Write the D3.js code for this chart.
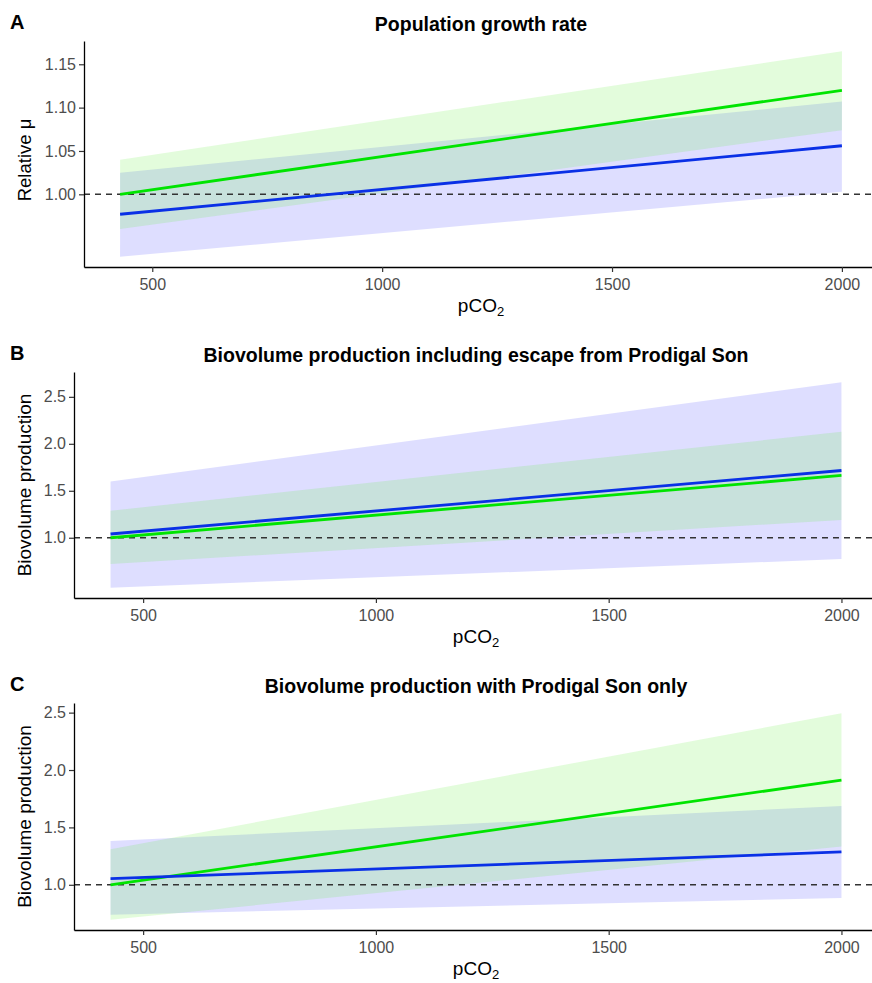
<!DOCTYPE html>
<html>
<head>
<meta charset="utf-8">
<script src="https://cdn.jsdelivr.net/npm/d3@7"></script>
<style>
  body { margin: 0; background: #fff; }
  svg { display: block; font-family: "Liberation Sans", Arial, sans-serif; }
</style>
</head>
<body>
<div id="chart"></div>
<script>
// x values (pCO2) at the two ends of each fitted line
var pco2 = [430, 2000];

// A - population growth rate
var aGreenFit = [1.000, 1.120];
var aGreenLo  = [0.960, 1.074];
var aGreenHi  = [1.040, 1.165];
var aBlueFit  = [0.977, 1.056];
var aBlueLo   = [0.928, 1.003];
var aBlueHi   = [1.025, 1.107];

// B - biovolume incl. escape
var bGreenFit = [1.000, 1.663];
var bGreenLo  = [0.720, 1.190];
var bGreenHi  = [1.287, 2.128];
var bBlueFit  = [1.040, 1.716];
var bBlueLo   = [0.468, 0.773];
var bBlueHi   = [1.600, 2.655];

// C - biovolume Prodigal Son only
var cGreenFit = [1.000, 1.912];
var cGreenLo  = [0.696, 1.333];
var cGreenHi  = [1.310, 2.494];
var cBlueFit  = [1.053, 1.286];
var cBlueLo   = [0.740, 0.886];
var cBlueHi   = [1.382, 1.687];

var xTicks = [500, 1000, 1500, 2000];
var aYTicks = [1.00, 1.05, 1.10, 1.15];
var bcYTicks = [1.0, 1.5, 2.0, 2.5];

var panels = [
  {tag: "A", title: "Population growth rate", ylab: "Relative \u03bc", ylabSize: 18.5, ylabY: 160,
   left: 84, top: 41, bottom: 267, yTicks: aYTicks, fmt: d3.format(".2f"),
   green: [aGreenFit, aGreenLo, aGreenHi], blue: [aBlueFit, aBlueLo, aBlueHi]},
  {tag: "B", title: "Biovolume production including escape from Prodigal Son", ylab: "Biovolume production", ylabSize: 19,
   left: 74, top: 372, bottom: 598, yTicks: bcYTicks, fmt: d3.format(".1f"),
   green: [bGreenFit, bGreenLo, bGreenHi], blue: [bBlueFit, bBlueLo, bBlueHi]},
  {tag: "C", title: "Biovolume production with Prodigal Son only", ylab: "Biovolume production", ylabSize: 19,
   left: 74, top: 703, bottom: 930, yTicks: bcYTicks, fmt: d3.format(".1f"),
   green: [cGreenFit, cGreenLo, cGreenHi], blue: [cBlueFit, cBlueLo, cBlueHi]}
];

var W = 872, H = 983, right = 878;
var svg = d3.select("#chart").append("svg").attr("width", W).attr("height", H);

function expand(ext) {
  var pad = (ext[1] - ext[0]) * 0.05;
  return [ext[0] - pad, ext[1] + pad];
}

panels.forEach(function(p) {
  var allY = [].concat(p.green[1], p.green[2], p.blue[1], p.blue[2], p.green[0], p.blue[0]);
  var x = d3.scaleLinear().domain(expand(d3.extent(pco2))).range([p.left, right]);
  var y = d3.scaleLinear().domain(expand(d3.extent(allY))).range([p.bottom, p.top]);

  function rows(s) {
    return pco2.map(function(v, i) { return {x: v, fit: s[0][i], lo: s[1][i], hi: s[2][i]}; });
  }
  var area = d3.area().x(function(d) { return x(d.x); })
    .y0(function(d) { return y(d.lo); }).y1(function(d) { return y(d.hi); });
  var line = d3.line().x(function(d) { return x(d.x); }).y(function(d) { return y(d.fit); });

  var g = svg.append("g");

  // ribbons
  g.append("path").datum(rows(p.blue)).attr("d", area)
    .attr("fill", "rgb(0,0,255)").attr("fill-opacity", 0.13);
  g.append("path").datum(rows(p.green)).attr("d", area)
    .attr("fill", "rgb(100,239,61)").attr("fill-opacity", 0.18);

  // reference line at 1
  g.append("line").attr("x1", p.left).attr("x2", right)
    .attr("y1", y(1)).attr("y2", y(1))
    .attr("stroke", "#333").attr("stroke-width", 1.4).attr("stroke-dasharray", "6,5");

  g.append("path").datum(rows(p.green)).attr("d", line)
    .attr("fill", "none").attr("stroke", "#00e400").attr("stroke-width", 2.8);
  g.append("path").datum(rows(p.blue)).attr("d", line)
    .attr("fill", "none").attr("stroke", "#0a30e6").attr("stroke-width", 2.8);

  // axes
  var xAxis = g.append("g").attr("transform", "translate(0," + p.bottom + ")")
    .call(d3.axisBottom(x).tickValues(xTicks).tickFormat(d3.format("d"))
      .tickSize(5).tickPadding(7).tickSizeOuter(0));
  var yAxis = g.append("g").attr("transform", "translate(" + p.left + ",0)")
    .call(d3.axisLeft(y).tickValues(p.yTicks).tickFormat(p.fmt).tickSize(5).tickPadding(3).tickSizeOuter(0));
  [xAxis, yAxis].forEach(function(a) {
    a.select(".domain").attr("stroke", "#000").attr("stroke-width", 1.3);
    a.selectAll(".tick line").attr("stroke", "#333").attr("stroke-width", 1.2);
    a.selectAll(".tick text").attr("fill", "#4d4d4d").style("font-size", "16px")
      .style("font-family", "Liberation Sans, Arial, sans-serif");
  });

  var cx = (p.left + right) / 2;
  // titles
  g.append("text").attr("x", 10).attr("y", p.top - 12).text(p.tag)
    .style("font-size", "20px").style("font-weight", "bold");
  g.append("text").attr("x", cx).attr("y", p.top - 10.5).attr("text-anchor", "middle")
    .text(p.title).style("font-size", "19.5px").style("font-weight", "bold");

  var xl = g.append("text").attr("x", cx).attr("y", p.bottom + 45).attr("text-anchor", "middle")
    .style("font-size", "19px").attr("fill", "#000");
  xl.append("tspan").text("pCO");
  xl.append("tspan").text("2").attr("dy", 4).style("font-size", "13px");

  var ly = p.ylabY || (p.top + p.bottom) / 2;
  g.append("text").attr("transform", "translate(31," + ly + ") rotate(-90)")
    .attr("text-anchor", "middle").style("font-size", p.ylabSize + "px").text(p.ylab);
});
</script>
</body>
</html>
